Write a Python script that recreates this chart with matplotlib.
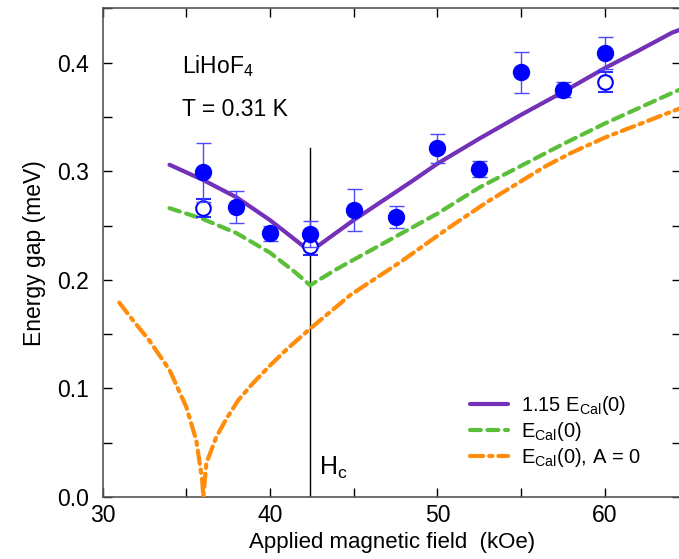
import matplotlib
matplotlib.use("Agg")
import matplotlib.pyplot as plt
from matplotlib.ticker import MultipleLocator, FormatStrFormatter

plt.rcParams['font.family'] = ['Liberation Sans', 'DejaVu Sans']
plt.rcParams['mathtext.fontset'] = 'custom'
plt.rcParams['mathtext.rm'] = 'Liberation Sans'
plt.rcParams['mathtext.it'] = 'Liberation Sans:italic'

# Measured gaps (filled = main data, open = second set)
field_filled = [36, 38, 40, 42.4, 45, 47.5, 50, 52.5, 55, 57.5, 60]
gap_filled = [0.299, 0.267, 0.243, 0.242, 0.264, 0.258, 0.321, 0.302, 0.391, 0.375, 0.409]
err_filled = [0.027, 0.0145, 0.007, 0.012, 0.0195, 0.010, 0.0135, 0.007, 0.019, 0.007, 0.015]

field_open = [36, 42.4, 60]
gap_open = [0.266, 0.231, 0.382]
err_open = [0.0085, 0.008, 0.009]

# Calculated curves
field_purple = [34, 36, 38, 40, 41, 42.4, 45, 48.5, 50, 52.5, 55, 57.5, 60, 62, 64, 64.6]
gap_purple = [0.306, 0.292, 0.276, 0.255, 0.243, 0.226, 0.255, 0.291, 0.307, 0.330, 0.352,
              0.373, 0.395, 0.411, 0.4275, 0.431]

field_green = [34, 36, 38, 40, 41.5, 42.4, 44, 46, 48, 50, 52.5, 55, 57.5, 60, 62, 64, 64.6]
gap_green = [0.266, 0.256, 0.243, 0.225, 0.207, 0.195, 0.210, 0.227, 0.244, 0.261, 0.285,
             0.305, 0.325, 0.344, 0.358, 0.372, 0.376]

field_orange = [31, 31.8, 32.8, 34, 35, 35.6, 35.95, 36.02, 36.2, 36.8, 37.4, 38.1, 39, 40,
                41, 42.4, 44.8, 47.8, 50.75, 53, 56.5, 58, 60, 62, 64, 64.6]
gap_orange = [0.179, 0.163, 0.144, 0.117, 0.083, 0.052, 0.016, 0.0, 0.031, 0.0555, 0.072,
              0.089, 0.105, 0.121, 0.136, 0.155, 0.186, 0.2165, 0.2487, 0.272, 0.305, 0.317,
              0.331, 0.343, 0.355, 0.3585]

H_C = 42.4

fig = plt.figure(figsize=(6.79, 5.59), dpi=100)
ax = fig.add_axes([0.151, 0.111, 0.852, 0.874])

ax.plot(field_purple, gap_purple, color='#7330b8', lw=3.0, solid_capstyle='round',
        label=r'1.15 E$_\mathrm{Cal}$(0)', zorder=3)
ax.plot(field_green, gap_green, color='#5cbf3a', lw=3.0, dashes=(2.6, 1.6),
        dash_capstyle='round', label=r'E$_\mathrm{Cal}$(0)', zorder=3)
ax.plot(field_orange, gap_orange, color='#ff8c0a', lw=3.0, dashes=(3.2, 1.4, 0.8, 1.4),
        dash_capstyle='round', label=r'E$_\mathrm{Cal}$(0), A = 0', zorder=3)

ax.errorbar(field_open, gap_open, yerr=err_open, fmt='o', mfc='white', mec='#0000ff',
            mew=1.5, ecolor='#2a2aff', elinewidth=1.0, capsize=5.4, capthick=1.0, ms=10.5,
            zorder=3.5)
ax.errorbar(field_filled, gap_filled, yerr=err_filled, fmt='o', color='#0000ff',
            ecolor='#4a4aff', elinewidth=1.0, capsize=5.4, capthick=1.0, ms=11.5, zorder=4)

ax.plot([H_C, H_C], [0, 0.321], color='black', lw=1.0, zorder=2)
ax.text(42.95, 0.02, r'H$_\mathrm{c}$', fontsize=18)
ax.text(34.75, 0.390, r'LiHoF$_4$', fontsize=16.5)
ax.text(34.75, 0.351, 'T = 0.31 K', fontsize=16.5)

ax.set_xlim(30, 64.55)
ax.set_ylim(0, 0.45)
ax.xaxis.set_major_locator(MultipleLocator(10))
ax.xaxis.set_minor_locator(MultipleLocator(5))
ax.yaxis.set_major_locator(MultipleLocator(0.1))
ax.yaxis.set_minor_locator(MultipleLocator(0.05))
ax.yaxis.set_major_formatter(FormatStrFormatter('%.1f'))
ax.tick_params(which='both', direction='in', top=True, right=True, length=6.5,
               width=1.0, labelsize=16.5)
ax.tick_params(axis='x', pad=5)
ax.tick_params(axis='y', pad=10)
for s in ax.spines.values():
    s.set_color('#555555')
    s.set_linewidth(1.2)

ax.set_xlabel('Applied magnetic field  (kOe)', fontsize=16, labelpad=4)
ax.set_ylabel('Energy gap (meV)', fontsize=16.5, labelpad=8)

ax.legend(loc='upper left', bbox_to_anchor=(0.618, 0.232), frameon=False, fontsize=14.5,
          borderpad=0, handlelength=1.9, handletextpad=0.65, labelspacing=0.15)

fig.savefig('out.png', dpi=100)
